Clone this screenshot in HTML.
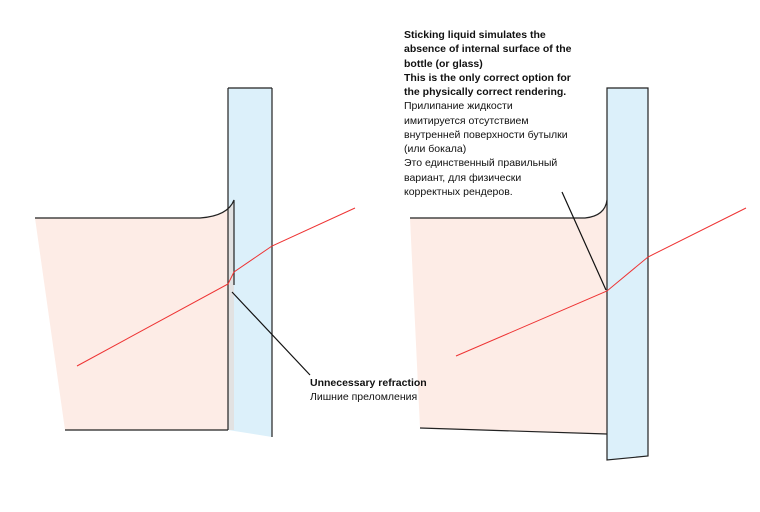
<!DOCTYPE html>
<html><head><style>body{margin:0;background:#fff}svg{display:block}text{font-family:"Liberation Sans",sans-serif;font-size:10.5px;fill:#111}</style></head><body>
<svg width="760" height="512" viewBox="0 0 760 512">
<rect x="228" y="88" width="44" height="349" fill="#dcf0fa"/>
<polygon points="228,430 272,437 272,440 228,440" fill="#fff"/>
<path d="M35,218 L200,218 Q228,216 234,200 L228,210 L228,430 L65,430 Z" fill="#fdece6"/>
<path d="M228,210 L234,200 L234,430 L228,430 Z" fill="#e2e2e2"/>
<g fill="none" stroke="#222" stroke-width="1.2">
<path d="M228,88 L228,430 M272,88 L272,437 M228,88 L272,88"/>
<path d="M35,218 L200,218 Q228,216 234,200 L234,285"/>
<path d="M65,430 L228,430"/>
</g>
<polyline points="77,366 228,284 234,272 272,246 355,208" fill="none" stroke="#e33" stroke-width="1"/>
<line x1="232" y1="292" x2="310" y2="375" stroke="#111" stroke-width="1.2"/>

<rect x="607" y="88" width="41" height="372" fill="#dcf0fa"/>
<polygon points="607,460 648,456 648,462 607,462" fill="#fff"/>
<path d="M410,218 L585,218 Q607,216 607,200 L607,434 L420,428 Z" fill="#fdece6"/>
<g fill="none" stroke="#222" stroke-width="1.2">
<path d="M607,88 L607,460 L648,456 L648,88 Z"/>
<path d="M410,218 L585,218 Q605,216 607,200"/>
<path d="M420,428 L607,434"/>
</g>
<polyline points="456,356 607,291 648,257 746,208" fill="none" stroke="#e33" stroke-width="1"/>
<line x1="562" y1="192" x2="606" y2="290" stroke="#111" stroke-width="1.2"/>

<text x="310" y="386" font-weight="bold">Unnecessary refraction</text>
<text x="310" y="400">Лишние преломления</text>
<g font-weight="bold">
<text x="404" y="38">Sticking liquid simulates the</text>
<text x="404" y="52">absence of internal surface of the</text>
<text x="404" y="67">bottle (or glass)</text>
<text x="404" y="81">This is the only correct option for</text>
<text x="404" y="95">the physically correct rendering.</text>
</g>
<text x="404" y="109">Прилипание жидкости</text>
<text x="404" y="124">имитируется отсутствием</text>
<text x="404" y="138">внутренней поверхности бутылки</text>
<text x="404" y="152">(или бокала)</text>
<text x="404" y="166">Это единственный правильный</text>
<text x="404" y="181">вариант, для физически</text>
<text x="404" y="195">корректных рендеров.</text>
</svg>
</body></html>
